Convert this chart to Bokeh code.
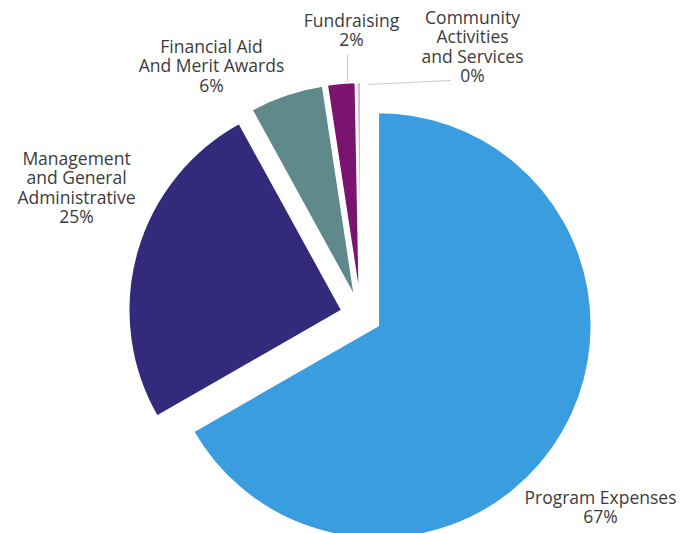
import math
from bokeh.plotting import figure
from bokeh.models import Range1d
from bokeh.core.properties import value
from bokeh.embed import file_html
from bokeh.resources import INLINE

# ---- data ----
categories = ["Program Expenses", "Management\nand General\nAdministrative",
              "Financial Aid\nAnd Merit Awards", "Fundraising",
              "Community\nActivities\nand Services"]
shares = [66.7, 25.3, 5.6, 2.1, 0.3]
colors = ["#3a9de0", "#332a7c", "#5f898b", "#7a1470", "#e2b3d3"]

# ---- layout (page pixel coords; data y = -page y) ----
W, H = 693, 533
cx, cy = 360.5, -315.0       # pie centre
radius = 213.0
explode = 20.0
label_anchor = [(600, 496), (76, 157), (211, 45), (351, 19), (472, 16)]
line_step = 19.5
leaders = [([347, 347], [-54, -81]), ([367, 450], [-84, -80])]

p = figure(width=W, height=H, output_backend="svg", toolbar_location=None,
           x_range=Range1d(0, W), y_range=Range1d(-H, 0), min_border=0)
p.xaxis.visible = False
p.yaxis.visible = False
p.xgrid.visible = False
p.ygrid.visible = False
p.outline_line_color = None
p.background_fill_color = "white"
p.border_fill_color = "white"

total = sum(shares)
start = math.pi / 2  # top, going clockwise
for name, v, col in zip(categories, shares, colors):
    sweep = v / total * 2 * math.pi
    end = start - sweep
    mid = (start + end) / 2
    x0 = cx + explode * math.cos(mid)
    y0 = cy + explode * math.sin(mid)
    p.wedge(x=[x0], y=[y0], radius=radius, start_angle=[end], end_angle=[start],
            fill_color=col, line_color="white", line_width=1.5)
    start = end

for xs, ys in leaders:
    p.line(x=xs, y=ys, line_color="#c8c8c8", line_width=1)

for name, v, (ax, ay) in zip(categories, shares, label_anchor):
    lines = name.split("\n") + [f"{round(v)}%"]
    xs = [ax] * len(lines)
    ys = [-(ay + i * line_step) for i in range(len(lines))]
    p.text(x=xs, y=ys, text=lines, text_font=value("Open Sans"),
           text_font_size="17.5px", text_color="#3c3c3c",
           text_align="center", text_baseline="middle")

open("out.html", "w").write(file_html(p, INLINE))
